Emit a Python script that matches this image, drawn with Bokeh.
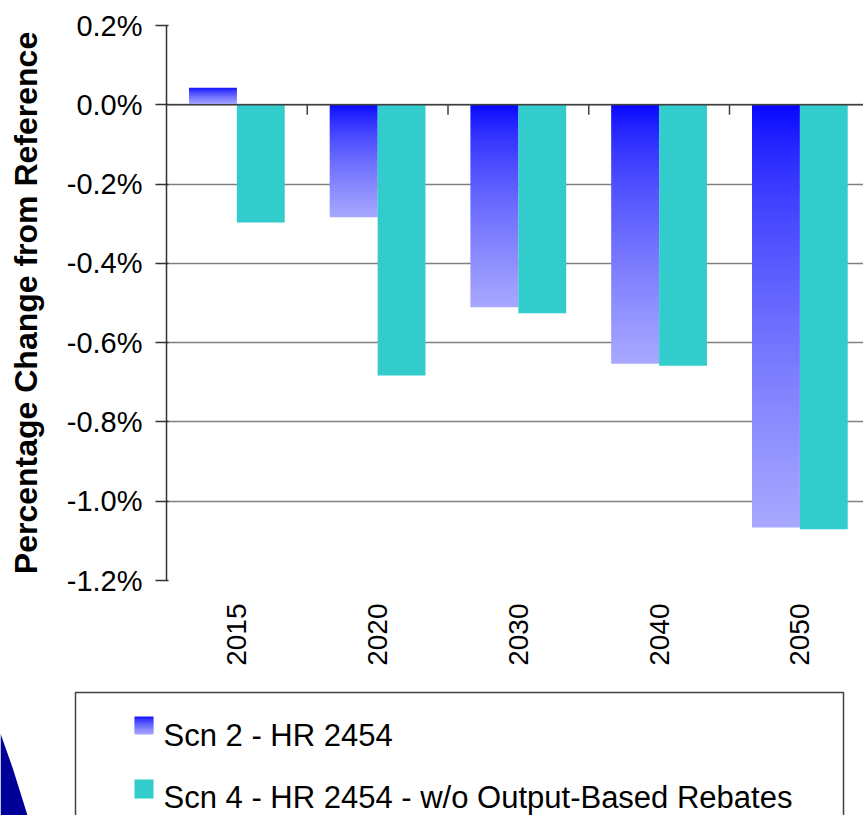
import numpy as np
from bokeh.plotting import figure
from bokeh.models import Range1d, FixedTicker, PrintfTickFormatter, Span, ColumnDataSource
from bokeh.core.properties import value
from bokeh.embed import file_html
from bokeh.resources import INLINE

# ---- data ----
years = ["2015", "2020", "2030", "2040", "2050"]
scn2 = [0.043, -0.284, -0.511, -0.653, -1.066]   # Scn 2 - HR 2454 (%)
scn4 = [-0.297, -0.683, -0.526, -0.658, -1.071]  # Scn 4 - HR 2454 - w/o Output-Based Rebates (%)
y_ticks = [0.2, 0.0, -0.2, -0.4, -0.6, -0.8, -1.0, -1.2]
legend_labels = ["Scn 2 - HR 2454", "Scn 4 - HR 2454 - w/o Output-Based Rebates"]

FONT = value("Liberation Sans")
TEAL = "#33CCCC"
BW = 0.34
PX_PER_UNIT = 396.4


def grad_color(t):
    c = int(round(168 * t ** 0.65))
    return "#%02x%02x%02x" % (c, c, 255)


W = 863
H1 = 688
H2 = 127

p = figure(width=W, height=H1, output_backend="svg", toolbar_location=None,
           x_range=Range1d(-0.5, -0.5 + 697 / 140.75), y_range=Range1d(-1.2, 0.2),
           min_border_left=166, min_border_right=0, min_border_top=25, min_border_bottom=108)
p.outline_line_color = None
p.background_fill_color = "white"
p.border_fill_color = "white"

# gradient bars for Scn 2 (each bar split into thin slices of interpolated colour)
L, R, T, B, C = [], [], [], [], []
for i, v in enumerate(scn2):
    top, bot = max(0.0, v), min(0.0, v)
    n = max(6, int(abs(v) * PX_PER_UNIT / 2))
    edges = np.linspace(top, bot, n + 1)
    h = (top - bot) / n
    for k in range(n):
        L.append(i - BW)
        R.append(i)
        T.append(edges[k])
        B.append(edges[k + 1] - (0.5 * h if k < n - 1 else 0))
        C.append(grad_color((k + 0.5) / n))
p.quad(left=L, right=R, top=T, bottom=B, fill_color=C, line_color=None)

# Scn 4 bars
src4 = ColumnDataSource(dict(x=[i + BW / 2 for i in range(len(years))], top=[0] * len(years), bottom=scn4))
p.vbar(x="x", width=BW, top="top", bottom="bottom", source=src4, fill_color=TEAL, line_color=None)

# zero axis line and category tick marks
p.add_layout(Span(location=0, dimension="width", line_color="#404040", line_width=1.5))
bx = [i + 0.5 for i in range(len(years) - 1)]
p.segment(x0=bx, x1=bx, y0=[0] * len(bx), y1=[-10 / PX_PER_UNIT] * len(bx), line_color="#404040", line_width=1.5)

# axes
p.yaxis.ticker = FixedTicker(ticks=y_ticks)
p.yaxis.formatter = PrintfTickFormatter(format="%.1f%%")
p.yaxis.major_label_text_font = "Liberation Sans"
p.yaxis.major_label_text_font_size = "29px"
p.yaxis.major_label_text_color = "black"
p.yaxis.major_tick_out = 11
p.yaxis.major_tick_in = 2
p.yaxis.minor_tick_line_color = None
p.yaxis.major_label_standoff = 13
p.yaxis.axis_line_color = "#333333"
p.yaxis.axis_line_width = 1.5
p.yaxis.major_tick_line_color = "#333333"
p.yaxis.major_tick_line_width = 1.5
p.yaxis.axis_label = "Percentage Change from Reference"
p.yaxis.axis_label_text_font = "Liberation Sans"
p.yaxis.axis_label_text_font_style = "bold"
p.yaxis.axis_label_text_font_size = "32px"
p.yaxis.axis_label_text_color = "black"
p.yaxis.axis_label_standoff = 20

p.xaxis.ticker = FixedTicker(ticks=list(range(len(years))))
p.xaxis.major_label_overrides = {i: y for i, y in enumerate(years)}
p.xaxis.major_label_orientation = np.pi / 2
p.xaxis.major_label_text_font = "Liberation Sans"
p.xaxis.major_label_text_font_size = "28px"
p.xaxis.major_label_text_color = "black"
p.xaxis.axis_line_color = None
p.xaxis.major_tick_line_color = None
p.xaxis.minor_tick_line_color = None
p.xaxis.major_tick_out = 0
p.xaxis.major_label_standoff = 23

p.xgrid.grid_line_color = None
p.ygrid.ticker = FixedTicker(ticks=y_ticks)
p.ygrid.grid_line_color = "#808080"
p.ygrid.grid_line_width = 1.5

# ---- legend panel ----
q = figure(width=W, height=H2, output_backend="svg", toolbar_location=None,
           x_range=Range1d(0, W), y_range=Range1d(H2, 0),
           min_border=0, min_border_left=0, min_border_right=0, min_border_top=0, min_border_bottom=0)
q.axis.visible = False
q.grid.grid_line_color = None
q.outline_line_color = None
q.border_fill_color = "white"

# background swoosh
q.patch(x=[0, 12, 27, 0], y=[45, 79, 127, 127], fill_color="#000099", line_color=None)

q.quad(left=[75], right=[843], top=[4], bottom=[160], fill_color="white",
       line_color="#404040", line_width=1.5)

# gradient legend swatch
sl, sr, st, sb, sc = [], [], [], [], []
edges = np.linspace(28, 46, 10)
for k in range(9):
    sl.append(134); sr.append(153)
    st.append(edges[k]); sb.append(edges[k + 1] + (0.8 if k < 8 else 0))
    sc.append(grad_color((k + 0.5) / 9))
q.quad(left=sl, right=sr, top=st, bottom=sb, fill_color=sc, line_color=None)
q.quad(left=[134], right=[153], top=[91], bottom=[110], fill_color=TEAL, line_color=None)

q.text(x=[163, 163], y=[47, 109], text=legend_labels, text_font=FONT, text_font_size="31px",
       text_color="black", text_baseline="alphabetic", text_align="left")

open("out.html", "w").write(file_html([p, q], INLINE))
